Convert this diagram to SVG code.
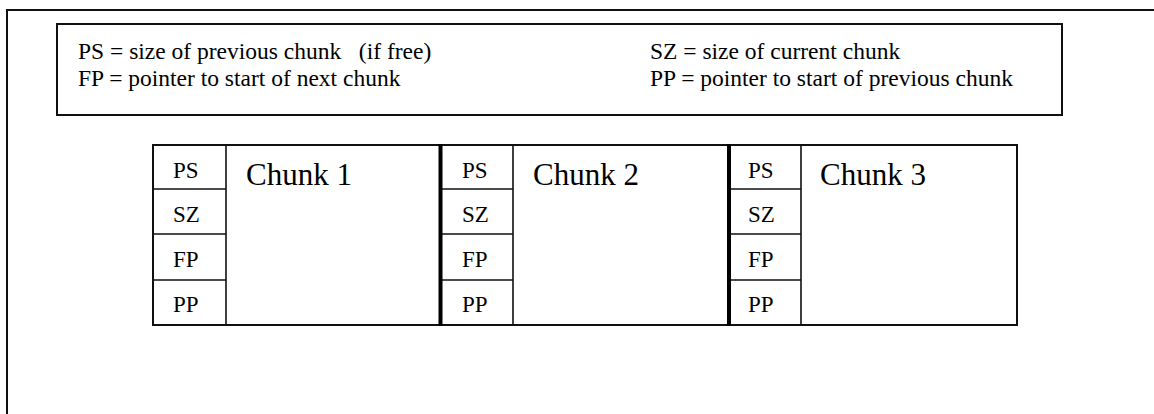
<svg xmlns="http://www.w3.org/2000/svg" width="1154" height="414" viewBox="0 0 1154 414">
<style>
text{font-family:"Liberation Serif","Times New Roman",serif;fill:#000}
.leg{font-size:23.5px}
.cell{font-size:23px}
.title{font-size:31px}
.frame{fill:none;stroke:#111;stroke-width:2}
.box{fill:#fff;stroke:#111;stroke-width:2}
.div{fill:none;stroke:#111;stroke-width:1.6}
.thick{fill:none;stroke:#000;stroke-width:4}
</style>
<rect width="1154" height="414" fill="#fff"/>
<path class="frame" d="M7 420 V10 H1160"/>
<g id="legend">
<rect class="box" x="57" y="24" width="1005" height="91"/>
<text class="leg" x="78" y="58.5" xml:space="preserve">PS = size of previous chunk   (if free)</text>
<text class="leg" x="78" y="85.5">FP = pointer to start of next chunk</text>
<text class="leg" x="650" y="58.5">SZ = size of current chunk</text>
<text class="leg" x="650" y="85.5">PP = pointer to start of previous chunk</text>
</g>
<g id="chunk1">
<rect class="box" x="153" y="145" width="287.5" height="180"/>
<path class="div" d="M226 145 V325 M153 189 H226 M153 234 H226 M153 280 H226"/>
<text class="cell" x="173" y="178">PS</text>
<text class="cell" x="173" y="222">SZ</text>
<text class="cell" x="173" y="267">FP</text>
<text class="cell" x="173" y="312">PP</text>
<text class="title" x="246" y="185">Chunk 1</text>
</g>
<g id="chunk2">
<rect class="box" x="440.5" y="145" width="288.5" height="180"/>
<path class="div" d="M513 145 V325 M440.5 189 H513 M440.5 234 H513 M440.5 280 H513"/>
<text class="cell" x="462" y="178">PS</text>
<text class="cell" x="462" y="222">SZ</text>
<text class="cell" x="462" y="267">FP</text>
<text class="cell" x="462" y="312">PP</text>
<text class="title" x="533" y="185">Chunk 2</text>
</g>
<g id="chunk3">
<rect class="box" x="729" y="145" width="288" height="180"/>
<path class="div" d="M801 145 V325 M729 189 H801 M729 234 H801 M729 280 H801"/>
<text class="cell" x="748" y="178">PS</text>
<text class="cell" x="748" y="222">SZ</text>
<text class="cell" x="748" y="267">FP</text>
<text class="cell" x="748" y="312">PP</text>
<text class="title" x="820" y="185">Chunk 3</text>
</g>
<g id="connectors">
<path class="thick" d="M440.5 144 V326 M729 144 V326"/>
</g>
</svg>
